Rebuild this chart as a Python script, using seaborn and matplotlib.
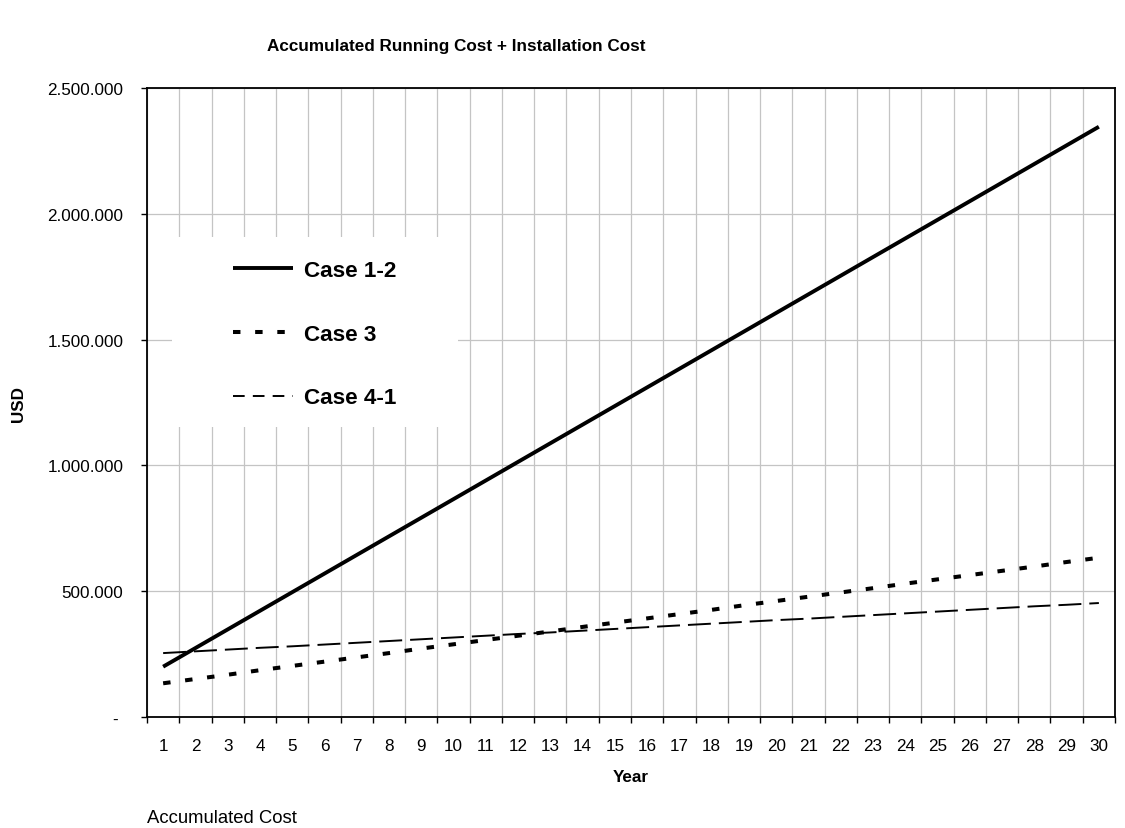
import matplotlib
matplotlib.use("Agg")
import matplotlib.pyplot as plt
from matplotlib.lines import Line2D
from matplotlib.patches import Rectangle
from matplotlib.ticker import FuncFormatter, FixedLocator
import seaborn as sns

# ---- data -------------------------------------------------------------
years = list(range(1, 31))

case_12 = [200000, 274000, 348000, 422000, 496000, 570000, 644000, 718000,
           792000, 866000, 940000, 1014000, 1088000, 1162000, 1236000,
           1310000, 1384000, 1458000, 1532000, 1606000, 1680000, 1754000,
           1828000, 1902000, 1976000, 2050000, 2124000, 2198000, 2272000,
           2346000]

case_3 = [134000, 151000, 168000, 186000, 203000, 220000, 237000, 254000,
          272000, 289000, 306000, 323000, 340000, 358000, 375000, 392000,
          409000, 426000, 444000, 461000, 478000, 495000, 512000, 530000,
          547000, 564000, 581000, 598000, 616000, 633000]

case_41 = [254000, 261000, 268000, 275000, 281000, 288000, 295000, 302000,
           309000, 316000, 323000, 330000, 336000, 343000, 350000, 357000,
           364000, 371000, 378000, 385000, 391000, 398000, 405000, 412000,
           419000, 426000, 433000, 440000, 446000, 453000]

series_names = ["Case 1-2", "Case 3", "Case 4-1"]
y_ticks = [0, 500000, 1000000, 1500000, 2000000, 2500000]

# ---- style ------------------------------------------------------------
sns.set_style("white")
plt.rcParams["font.family"] = ["Liberation Sans", "DejaVu Sans"]
plt.rcParams["text.color"] = "black"
plt.rcParams["axes.labelcolor"] = "black"
plt.rcParams["xtick.color"] = "black"
plt.rcParams["ytick.color"] = "black"

W, H = 1125, 829
fig = plt.figure(figsize=(W / 100, H / 100), dpi=100)
fig.patch.set_facecolor("white")


def fx(px):
    return px / W


def fy(py):
    return 1 - py / H


ax = fig.add_axes([fx(147), fy(718), fx(1115) - fx(147), fy(89) - fy(718)])
ax.set_facecolor("white")

pos = list(range(len(years)))

# line styles: (linewidth, dash pattern or None)
styles = {
    "Case 1-2": (2.8, None),
    "Case 3": (2.9, (1.85, 3.65)),
    "Case 4-1": (1.4, (11.8, 4.1)),
}

for name, vals in zip(series_names, [case_12, case_3, case_41]):
    lw, dash = styles[name]
    sns.lineplot(x=pos, y=vals, ax=ax, color="black", linewidth=lw,
                 legend=False)
    ln = ax.lines[-1]
    ln.set_solid_capstyle("butt")
    ln.set_dash_capstyle("butt")
    if dash is not None:
        ln.set_dashes(dash)
    ln.set_zorder(3)

# ---- axes -------------------------------------------------------------
ax.set_xlim(-0.5, len(years) - 0.5)
ax.set_ylim(0, 2500000)

ax.xaxis.set_major_locator(FixedLocator(pos))
ax.set_xticklabels([str(y) for y in years])
ax.xaxis.set_minor_locator(FixedLocator([p - 0.5 for p in pos] + [pos[-1] + 0.5]))
ax.set_yticks(y_ticks)


def usd(v, _):
    if v == 0:
        return "- "
    return f"{int(v):,}".replace(",", ".")


ax.yaxis.set_major_formatter(FuncFormatter(usd))

ax.tick_params(axis="x", which="major", length=0, pad=15, labelsize=12.3,
               colors="black")
ax.tick_params(axis="x", which="minor", length=4, width=1.0, direction="out",
               color="black", bottom=True)
ax.tick_params(axis="y", which="major", length=4, width=1.0, direction="out",
               pad=13, labelsize=12.3, colors="black", left=True)

ax.set_axisbelow(True)
ax.grid(False)
ax.xaxis.grid(True, which="minor", color="#c4c4c4", linewidth=0.9)
ax.yaxis.grid(True, which="major", color="#c4c4c4", linewidth=0.9)

for side in ["left", "bottom", "top", "right"]:
    ax.spines[side].set_visible(True)
    ax.spines[side].set_color("black")
    ax.spines[side].set_linewidth(1.3)

ax.set_xlabel("")
ax.set_ylabel("")

# white panel behind the legend
ax.add_patch(Rectangle((fx(172), fy(428)), fx(458) - fx(172), fy(238) - fy(428),
                       transform=fig.transFigure, facecolor="white",
                       edgecolor="none", zorder=1))

handles = [
    Line2D([], [], color="black", linewidth=2.8, solid_capstyle="butt"),
    Line2D([], [], color="black", linewidth=2.9, dashes=(1.85, 3.65),
           dash_capstyle="butt"),
    Line2D([], [], color="black", linewidth=1.4, dashes=(6.0, 4.2),
           dash_capstyle="butt"),
]
leg = ax.legend(handles, series_names, loc="upper left",
                bbox_to_anchor=(fx(233), fy(261)),
                bbox_transform=fig.transFigure, frameon=False,
                borderpad=0, borderaxespad=0, handlelength=2.65,
                handletextpad=0.5, labelspacing=1.9,
                prop={"weight": "bold", "size": 16.2})
leg.set_zorder(4)
for t in leg.get_texts():
    t.set_color("black")

# ---- text -------------------------------------------------------------
fig.text(fx(456), fy(47), "Accumulated Running Cost + Installation Cost",
         ha="center", va="center", fontsize=12.3, fontweight="bold")
fig.text(fx(19), fy(404), "USD", ha="center", va="center", rotation=90,
         fontsize=12.3, fontweight="bold")
fig.text(fx(631), fy(778), "Year", ha="center", va="center",
         fontsize=12.3, fontweight="bold")
fig.text(fx(147), fy(819), "Accumulated Cost", ha="left", va="center",
         fontsize=13.3)

fig.savefig("out.png", dpi=100, facecolor="white")
